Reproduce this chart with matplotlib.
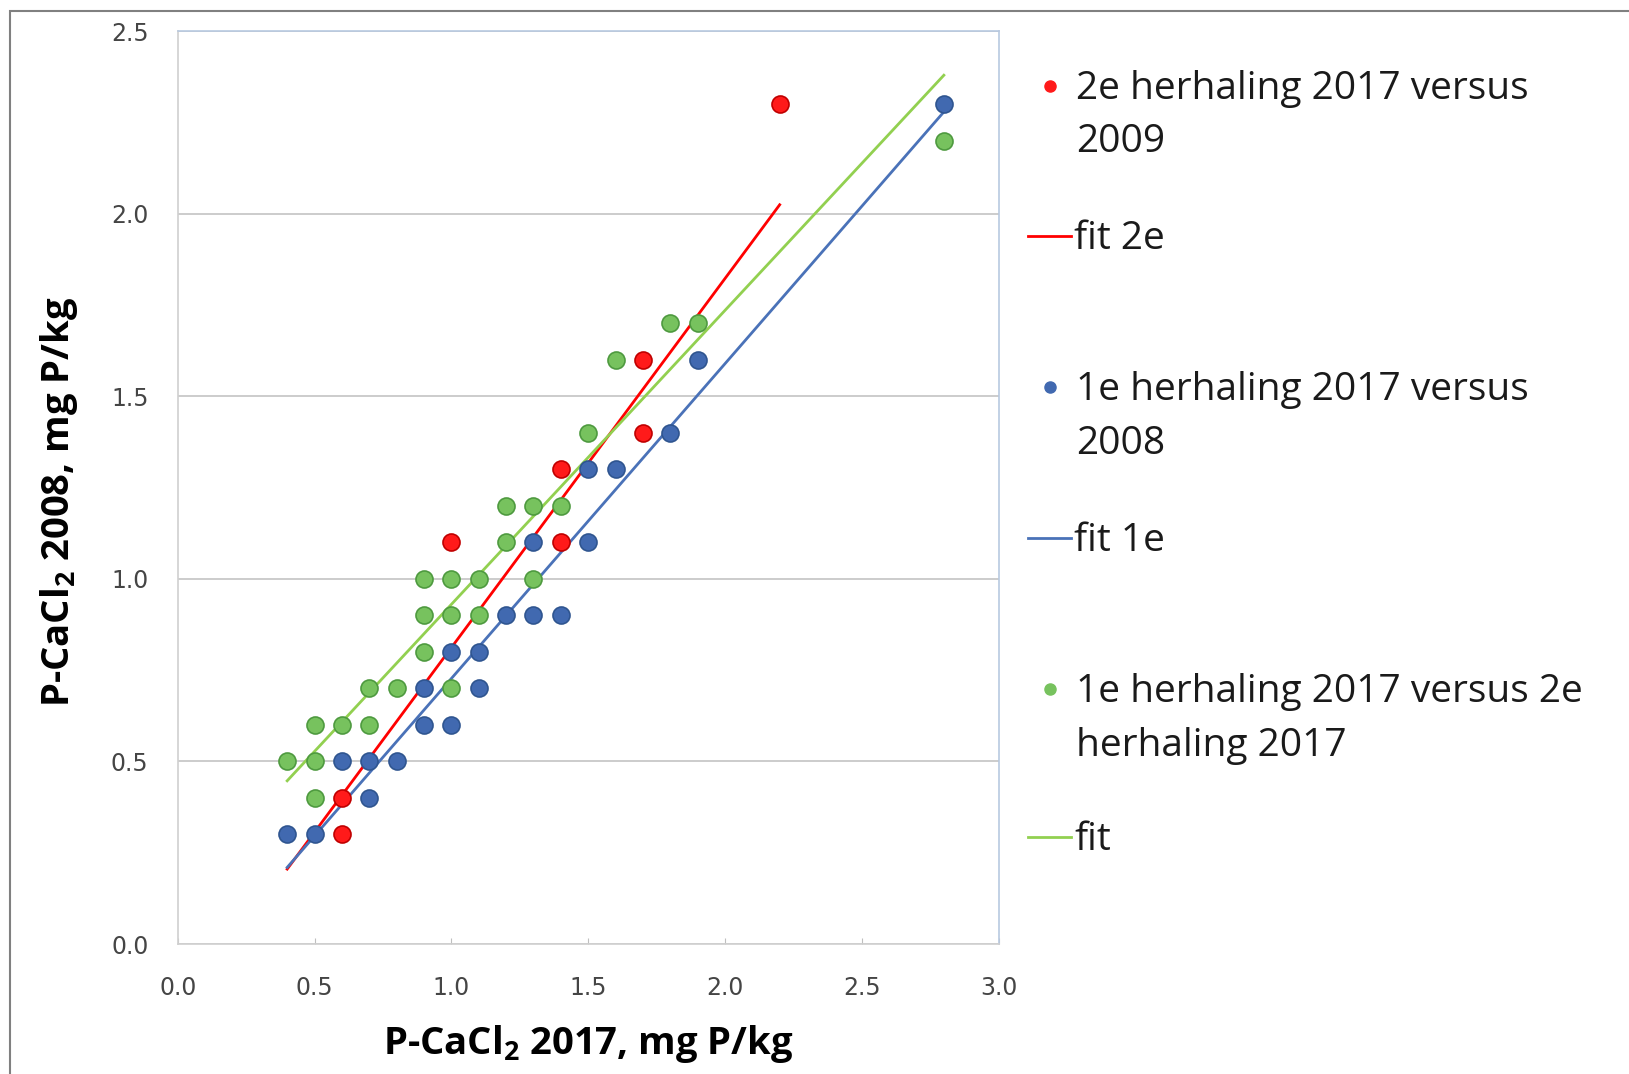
import numpy as np
import matplotlib
matplotlib.use('Agg')
import matplotlib.pyplot as plt
from matplotlib.lines import Line2D
from matplotlib.patches import Rectangle

plt.rcParams['mathtext.fontset'] = 'custom'
plt.rcParams['mathtext.rm'] = 'Open Sans:bold'
plt.rcParams['mathtext.default'] = 'rm'

# 2e herhaling 2017 versus 2009
red_x = [0.6, 0.6, 1.0, 1.4, 1.4, 1.7, 1.7, 2.2]
red_y = [0.3, 0.4, 1.1, 1.3, 1.1, 1.6, 1.4, 2.3]

# 1e herhaling 2017 versus 2008
blue_x = [0.4, 0.5, 0.6, 0.7, 0.7, 0.8, 0.9, 0.9, 1.0, 1.0, 1.1, 1.1,
          1.2, 1.3, 1.3, 1.4, 1.5, 1.5, 1.6, 1.8, 1.9, 2.8]
blue_y = [0.3, 0.3, 0.5, 0.5, 0.4, 0.5, 0.7, 0.6, 0.8, 0.6, 0.8, 0.7,
          0.9, 1.1, 0.9, 0.9, 1.3, 1.1, 1.3, 1.4, 1.6, 2.3]

# 1e herhaling 2017 versus 2e herhaling 2017
green_x = [0.4, 0.5, 0.5, 0.5, 0.6, 0.7, 0.7, 0.8, 1.0, 0.9, 0.9, 1.0, 1.1,
           0.9, 1.0, 1.1, 1.2, 1.3, 1.2, 1.3, 1.4, 1.5, 1.6, 1.8, 1.9, 2.8]
green_y = [0.5, 0.5, 0.4, 0.6, 0.6, 0.6, 0.7, 0.7, 0.7, 0.8, 0.9, 0.9, 0.9,
           1.0, 1.0, 1.0, 1.1, 1.0, 1.2, 1.2, 1.2, 1.4, 1.6, 1.7, 1.7, 2.2]

# fit lines (slope, intercept, x range)
fit_2e = (1.0106, -0.199, [0.4, 2.2])
fit_1e = (0.862, -0.135, [0.4, 2.8])
fit_all = (0.805, 0.125, [0.4, 2.8])

RED, RED_E = '#FF1A1A', '#C00000'
BLUE, BLUE_E = '#4169B0', '#2F5590'
GREEN, GREEN_E = '#77C25E', '#4E9A3F'

fig = plt.figure(figsize=(16.29, 10.74), dpi=100)
ax = fig.add_axes([0.1091, 0.1210, 0.5039, 0.8501])

ax.set_xlim(0, 3)
ax.set_ylim(0, 2.5)
ax.set_xticks(np.arange(0, 3.01, 0.5))
ax.set_yticks(np.arange(0, 2.51, 0.5))
ax.xaxis.set_major_formatter(matplotlib.ticker.FormatStrFormatter('%.1f'))
ax.yaxis.set_major_formatter(matplotlib.ticker.FormatStrFormatter('%.1f'))
ax.tick_params(axis='x', direction='in', length=4, color='#BFBFBF', pad=23,
               labelsize=17, labelcolor='#454545')
ax.tick_params(axis='y', length=0, pad=21, labelsize=17, labelcolor='#454545')
ax.grid(axis='y', color='#BFBFBF', lw=1.1)
ax.set_axisbelow(True)
for side in ['left', 'bottom']:
    ax.spines[side].set_color('#D0D0D0')
for side in ['right', 'top']:
    ax.spines[side].set_color('#B8C9E0')
for s in ax.spines.values():
    s.set_linewidth(1.2)

for (k, b, xr), col in [(fit_2e, '#FF0000'), (fit_1e, '#4A72B8'), (fit_all, '#92D050')]:
    xs = np.array(xr)
    ax.plot(xs, k * xs + b, color=col, lw=2.0, zorder=2)

ax.scatter(green_x, green_y, s=150, c=GREEN, edgecolors=GREEN_E, linewidths=1.2, zorder=3)
ax.scatter(blue_x, blue_y, s=150, c=BLUE, edgecolors=BLUE_E, linewidths=1.2, zorder=3)
ax.scatter(red_x, red_y, s=150, c=RED, edgecolors=RED_E, linewidths=1.2, zorder=4)

ax.set_xlabel('P-CaCl$_2$ 2017, mg P/kg', fontfamily='Open Sans', fontweight='bold', fontsize=27.5)
ax.set_ylabel('P-CaCl$_2$ 2008, mg P/kg', fontfamily='Open Sans', fontweight='bold', fontsize=27.5)
ax.xaxis.set_label_coords(0.5, -0.087)
ax.yaxis.set_label_coords(-0.119, 0.485)

# legend drawn by hand to keep the uneven spacing of the original
W, H = 1629.0, 1074.0
def fx(px):
    return px / W
def fy(py):
    return 1 - py / H

legend_entries = [
    ('marker', RED, ['2e herhaling 2017 versus', '2009'], [99, 152]),
    ('line', '#FF0000', ['fit 2e'], [249]),
    ('marker', BLUE, ['1e herhaling 2017 versus', '2008'], [400, 454]),
    ('line', '#4A72B8', ['fit 1e'], [551]),
    ('marker', GREEN, ['1e herhaling 2017 versus 2e', 'herhaling 2017'], [702, 756]),
    ('line', '#92D050', ['fit'], [850]),
]
for kind, col, lines, bases in legend_entries:
    yc = bases[0] - 13
    if kind == 'marker':
        fig.add_artist(Line2D([fx(1050)], [fy(yc)], marker='o', ms=8, color=col,
                              mec=col, ls='none'))
        tx = 1076
    else:
        fig.add_artist(Line2D([fx(1028), fx(1071)], [fy(yc), fy(yc)], color=col, lw=2))
        tx = 1074
    for txt, yb in zip(lines, bases):
        fig.text(fx(tx), fy(yb), txt, fontfamily='Open Sans', fontsize=28,
                 color='#1A1A1A', va='baseline', ha='left')

# outer chart border
fig.add_artist(Rectangle((fx(10), -0.1), 1.2, fy(11) + 0.1, transform=fig.transFigure,
                         fill=False, edgecolor='#808080', lw=1.5))

fig.savefig('out.png', dpi=100)
